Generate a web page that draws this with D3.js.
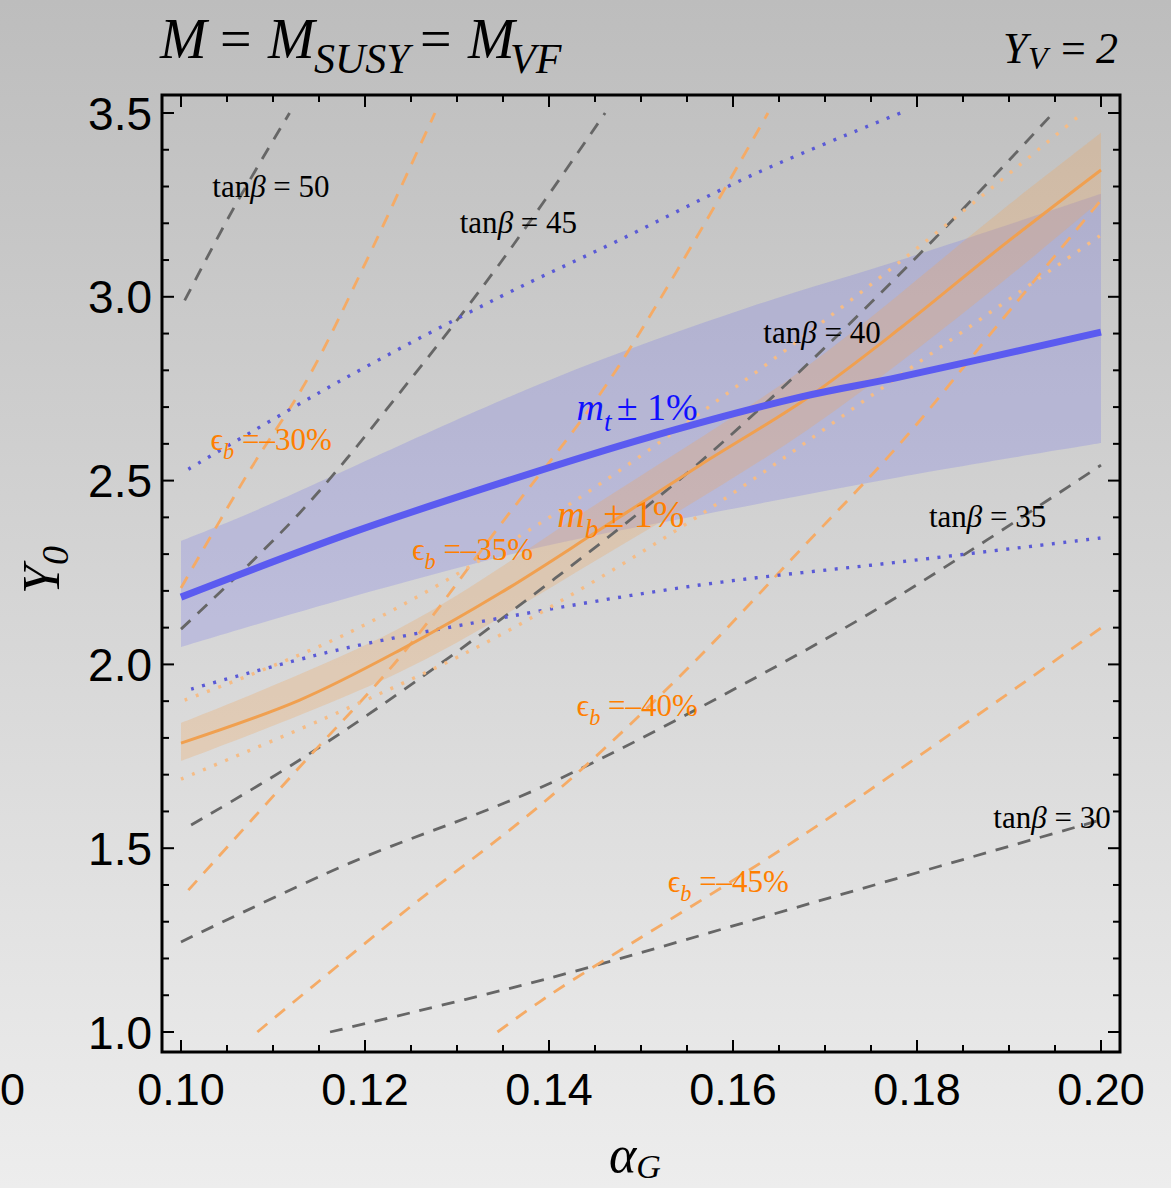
<!DOCTYPE html>
<html>
<head>
<meta charset="utf-8">
<script src="https://cdn.jsdelivr.net/npm/d3@7"></script>
<style>
  body { margin: 0; }
  svg { display: block; }
</style>
</head>
<body>
<div id="chart"></div>
<script>
const width = 1171, height = 1188;
const frame = { left: 162, right: 1120, top: 95, bottom: 1052 };

// axis ticks
const xTicks = [0.10, 0.12, 0.14, 0.16, 0.18, 0.20];
const yTicks = [1.0, 1.5, 2.0, 2.5, 3.0, 3.5];

// contour lines, points are [alphaG, Y0]
const tan50 = [[0.1004, 2.99], [0.1057, 3.24], [0.1118, 3.50]];
const tan45 = [[0.1000, 2.096], [0.1129, 2.412], [0.1249, 2.774], [0.1347, 3.092], [0.1461, 3.50]];
const tan40 = [[0.1011, 1.563], [0.1129, 1.740], [0.1292, 2.020], [0.1528, 2.474], [0.1659, 2.765], [0.1807, 3.127], [0.1948, 3.50]];
const tan35 = [[0.1000, 1.245], [0.1184, 1.460], [0.1390, 1.664], [0.1626, 1.966], [0.1782, 2.189], [0.2000, 2.542]];
const tan30 = [[0.1162, 1.00], [0.1401, 1.147], [0.1705, 1.365], [0.2000, 1.577]];

const eps30 = [[0.1000, 2.208], [0.1075, 2.529], [0.1137, 2.774], [0.1202, 3.100], [0.1276, 3.50]];
const eps35 = [[0.1008, 1.386], [0.1129, 1.721], [0.1238, 2.020], [0.1347, 2.379], [0.1466, 2.774], [0.1638, 3.50]];
const eps40 = [[0.1083, 1.00], [0.1238, 1.318], [0.1401, 1.639], [0.1546, 1.977], [0.1673, 2.311], [0.1782, 2.602], [0.1890, 2.93], [0.2000, 3.263]];
const eps45 = [[0.1344, 1.00], [0.1401, 1.101], [0.1673, 1.530], [0.2000, 2.099]];

// m_t band
const mtUpper = [[0.1000, 2.336], [0.1075, 2.412], [0.1401, 2.774], [0.1618, 2.972], [0.1782, 3.100], [0.2000, 3.280]];
const mtLower = [[0.1000, 2.047], [0.1184, 2.183], [0.1401, 2.325], [0.1564, 2.406], [0.1782, 2.510], [0.2000, 2.602]];
const mtCentral = [[0.1000, 2.183], [0.1184, 2.357], [0.1347, 2.493], [0.1510, 2.619], [0.1673, 2.727], [0.1782, 2.782], [0.2000, 2.904]];
const mtDotUpper = [[0.1008, 2.531], [0.1175, 2.774], [0.1347, 3.000], [0.1477, 3.155], [0.1626, 3.337], [0.1782, 3.50]];
const mtDotLower = [[0.1011, 1.933], [0.1170, 2.039], [0.1347, 2.126], [0.1564, 2.216], [0.1782, 2.279], [0.2000, 2.344]];

// m_b band
const mbUpper = [[0.1000, 1.841], [0.1238, 2.099], [0.1455, 2.442], [0.1682, 2.814], [0.1890, 3.231], [0.2000, 3.446]];
const mbLower = [[0.1000, 1.737], [0.1238, 1.979], [0.1455, 2.289], [0.1682, 2.640], [0.1890, 3.035], [0.2000, 3.263]];
const mbCentral = [[0.1000, 1.786], [0.1129, 1.903], [0.1238, 2.039], [0.1347, 2.194], [0.1455, 2.366], [0.1564, 2.542], [0.1682, 2.727], [0.1782, 2.915], [0.1890, 3.133], [0.2000, 3.345]];
const mbDotUpper = [[0.1004, 1.903], [0.1184, 2.088], [0.1401, 2.401], [0.1618, 2.782], [0.1807, 3.146], [0.1980, 3.50]];
const mbDotLower = [[0.1000, 1.688], [0.1184, 1.884], [0.1347, 2.080], [0.1564, 2.406], [0.1782, 2.787], [0.2000, 3.168]];

// labels: [text value, alphaG, Y0] (left end / baseline)
const tanLabels = [["50", 0.1034, 3.271], ["45", 0.1303, 3.174], ["40", 0.1633, 2.874], ["35", 0.1813, 2.374], ["30", 0.1883, 1.555]];
const epsLabels = [["30", 0.1032, 2.583], ["35", 0.1251, 2.284], ["40", 0.1430, 1.860], ["45", 0.1529, 1.381]];

const svg = d3.select("#chart")
    .append("svg")
    .attr("width", width)
    .attr("height", height);

const defs = svg.append("defs");
const grad = defs.append("linearGradient")
    .attr("id", "bg")
    .attr("x1", 0).attr("y1", 0).attr("x2", 0).attr("y2", 1);
grad.append("stop").attr("offset", "0%").attr("stop-color", "#bdbdbd");
grad.append("stop").attr("offset", "100%").attr("stop-color", "#ededed");

defs.append("clipPath").attr("id", "clip")
    .append("rect")
    .attr("x", frame.left).attr("y", frame.top)
    .attr("width", frame.right - frame.left)
    .attr("height", frame.bottom - frame.top);

svg.append("rect")
    .attr("width", width)
    .attr("height", height)
    .attr("fill", "url(#bg)");

let xScale = d3.scaleLinear()
    .domain([0.10, 0.20])
    .range([181, 1101]);

let yScale = d3.scaleLinear()
    .domain([1.0, 3.5])
    .range([1032, 113]);

const line = d3.line()
    .x((d) => xScale(d[0]))
    .y((d) => yScale(d[1]))
    .curve(d3.curveCatmullRom.alpha(0.5));

function bandPath(upper, lower) {
    const top = line(upper);
    const bottom = line(lower.slice().reverse());
    return top + "L" + bottom.slice(1) + "Z";
}

const plot = svg.append("g").attr("clip-path", "url(#clip)");

// bands
plot.append("path")
    .attr("d", bandPath(mtUpper, mtLower))
    .attr("fill", "rgb(100,100,235)")
    .attr("fill-opacity", 0.22);

plot.append("path")
    .attr("d", bandPath(mbUpper, mbLower))
    .attr("fill", "rgb(240,165,90)")
    .attr("fill-opacity", 0.28);

// tan beta contours
[tan50, tan45, tan40, tan35, tan30].forEach((c) => {
    plot.append("path")
        .attr("d", line(c))
        .attr("fill", "none")
        .attr("stroke", "#666666")
        .attr("stroke-width", 2.8)
        .attr("stroke-dasharray", "13,10");
});

// epsilon_b contours
[eps30, eps35, eps40, eps45].forEach((c) => {
    plot.append("path")
        .attr("d", line(c))
        .attr("fill", "none")
        .attr("stroke", "#f5ab66")
        .attr("stroke-width", 2.8)
        .attr("stroke-dasharray", "13,10");
});

// dotted edges
[mtDotUpper, mtDotLower].forEach((c) => {
    plot.append("path")
        .attr("d", line(c))
        .attr("fill", "none")
        .attr("stroke", "#5a5ad6")
        .attr("stroke-width", 3.4)
        .attr("stroke-dasharray", "3,8.5");
});
[mbDotUpper, mbDotLower].forEach((c) => {
    plot.append("path")
        .attr("d", line(c))
        .attr("fill", "none")
        .attr("stroke", "#f5bc86")
        .attr("stroke-width", 3.4)
        .attr("stroke-dasharray", "3,9");
});

// central lines
plot.append("path")
    .attr("d", line(mbCentral))
    .attr("fill", "none")
    .attr("stroke", "#f0a050")
    .attr("stroke-width", 3);

plot.append("path")
    .attr("d", line(mtCentral))
    .attr("fill", "none")
    .attr("stroke", "#5b5bf0")
    .attr("stroke-width", 7);

// rich text helper
function richText(g, px, py, parts, opts) {
    const t = g.append("text")
        .attr("x", px)
        .attr("y", py)
        .attr("font-family", "Liberation Serif, DejaVu Serif, serif")
        .attr("font-size", opts.size)
        .attr("fill", opts.color || "#000");
    let shift = 0;
    parts.forEach((p) => {
        const s = t.append("tspan").text(p.t);
        if (p.it) s.attr("font-style", "italic");
        const want = p.sub ? opts.size * 0.28 : 0;
        if (want !== shift) { s.attr("dy", want - shift); shift = want; }
        if (p.sub) s.attr("font-size", opts.size * 0.72);
        if (p.dx) s.attr("dx", p.dx);
    });
    return t;
}

const labels = svg.append("g");

tanLabels.forEach((d) => {
    richText(labels, xScale(d[1]), yScale(d[2]),
        [{ t: "tan" }, { t: "β", it: true }, { t: " = " + d[0] }],
        { size: 31 });
});

epsLabels.forEach((d) => {
    richText(labels, xScale(d[1]), yScale(d[2]),
        [{ t: "ϵ" }, { t: "b", it: true, sub: true }, { t: " =–" + d[0] + "%" }],
        { size: 31, color: "#ff7f00" });
});

richText(labels, xScale(0.1430), yScale(2.665),
    [{ t: "m", it: true }, { t: "t", it: true, sub: true }, { t: "± 1%", dx: 5 }],
    { size: 38, color: "#1010ff" });

richText(labels, xScale(0.1409), yScale(2.374),
    [{ t: "m", it: true }, { t: "b", it: true, sub: true }, { t: "± 1%", dx: 5 }],
    { size: 38, color: "#ff7f00" });

// frame and ticks
const axes = svg.append("g")
    .attr("stroke", "#000");

axes.append("rect")
    .attr("x", frame.left).attr("y", frame.top)
    .attr("width", frame.right - frame.left)
    .attr("height", frame.bottom - frame.top)
    .attr("fill", "none")
    .attr("stroke-width", 3);

const xMinor = d3.range(0, 21).map((i) => 0.10 + i * 0.005);
const yMinor = d3.range(0, 26).map((i) => 1.0 + i * 0.1);

xMinor.forEach((v, i) => {
    const len = i % 4 === 0 ? 12 : 7;
    axes.append("line")
        .attr("x1", xScale(v)).attr("x2", xScale(v))
        .attr("y1", frame.bottom).attr("y2", frame.bottom - len)
        .attr("stroke-width", 2);
    axes.append("line")
        .attr("x1", xScale(v)).attr("x2", xScale(v))
        .attr("y1", frame.top).attr("y2", frame.top + len)
        .attr("stroke-width", 2);
});

yMinor.forEach((v, i) => {
    const len = i % 5 === 0 ? 12 : 7;
    axes.append("line")
        .attr("x1", frame.left).attr("x2", frame.left + len)
        .attr("y1", yScale(v)).attr("y2", yScale(v))
        .attr("stroke-width", 2);
    axes.append("line")
        .attr("x1", frame.right).attr("x2", frame.right - len)
        .attr("y1", yScale(v)).attr("y2", yScale(v))
        .attr("stroke-width", 2);
});

const tickFont = "Liberation Sans, Arial, sans-serif";

svg.append("g").selectAll("text")
    .data(xTicks)
    .enter()
    .append("text")
    .attr("x", (d) => xScale(d))
    .attr("y", 1105)
    .attr("text-anchor", "middle")
    .attr("font-family", tickFont)
    .attr("font-size", 45)
    .text((d) => d.toFixed(2));

svg.append("g").selectAll("text")
    .data(yTicks)
    .enter()
    .append("text")
    .attr("x", 152)
    .attr("y", (d) => yScale(d))
    .attr("dy", "0.36em")
    .attr("text-anchor", "end")
    .attr("font-family", tickFont)
    .attr("font-size", 46)
    .text((d) => d.toFixed(1));

// last digit of the neighbouring panel's tick label, seen at the left edge
svg.append("text")
    .attr("x", 0)
    .attr("y", 1105)
    .attr("font-family", tickFont)
    .attr("font-size", 45)
    .text("0");

// titles
const title = svg.append("text")
    .attr("y", 58)
    .attr("font-family", "Liberation Serif, serif")
    .attr("font-style", "italic")
    .attr("font-size", 56);
title.append("tspan").attr("x", 160).text("M");
title.append("tspan").attr("x", 220).attr("font-style", "normal").text("=");
title.append("tspan").attr("x", 268).text("M");
title.append("tspan").attr("x", 314).attr("dy", 15).attr("font-size", 42).text("SUSY");
title.append("tspan").attr("x", 420).attr("dy", -15).attr("font-style", "normal").text("=");
title.append("tspan").attr("x", 468).text("M");
title.append("tspan").attr("x", 510).attr("dy", 15).attr("font-size", 42).text("VF");

const yv = svg.append("text")
    .attr("y", 63)
    .attr("font-family", "Liberation Serif, serif")
    .attr("font-style", "italic")
    .attr("font-size", 44);
yv.append("tspan").attr("x", 1003).text("Y");
yv.append("tspan").attr("x", 1028).attr("dy", 6).attr("font-size", 32).text("V");
yv.append("tspan").attr("x", 1061).attr("dy", -6).attr("font-style", "normal").text("=");
yv.append("tspan").attr("x", 1096).text("2");

// axis labels
const ylab = svg.append("text")
    .attr("transform", "translate(59,594) rotate(-90)")
    .attr("font-family", "Liberation Serif, serif")
    .attr("font-style", "italic")
    .attr("font-size", 52);
ylab.append("tspan").text("Y");
ylab.append("tspan").attr("dy", 9).attr("font-size", 38).text("0");

const xlab = svg.append("text")
    .attr("x", 609)
    .attr("y", 1172)
    .attr("font-family", "Liberation Serif, serif")
    .attr("font-style", "italic")
    .attr("font-size", 52);
xlab.append("tspan").text("α");
xlab.append("tspan").attr("dy", 6).attr("font-size", 34).text("G");
</script>
</body>
</html>
